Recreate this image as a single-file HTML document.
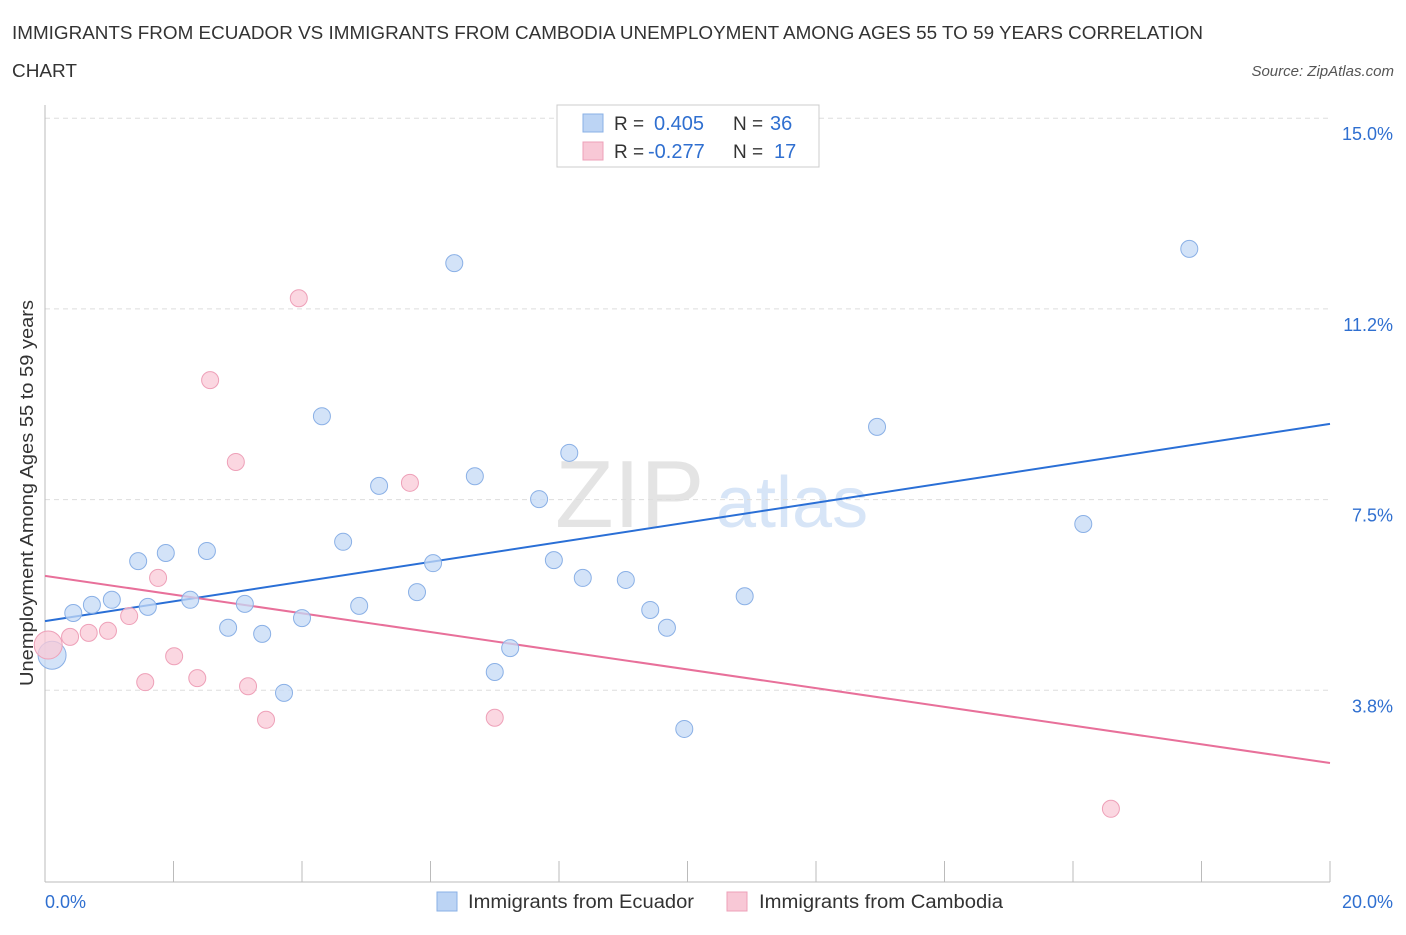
<!DOCTYPE html>
<html><head><meta charset="utf-8"><style>
body{margin:0;background:#fff;font-family:"Liberation Sans",sans-serif;}
svg text{font-family:"Liberation Sans",sans-serif;}
</style></head><body>
<svg id="chart" width="1406" height="930" xmlns="http://www.w3.org/2000/svg">
<text x="12" y="39" font-size="18" fill="#333" textLength="1191" lengthAdjust="spacingAndGlyphs">IMMIGRANTS FROM ECUADOR VS IMMIGRANTS FROM CAMBODIA UNEMPLOYMENT AMONG AGES 55 TO 59 YEARS CORRELATION</text>
<text x="12" y="77" font-size="18" fill="#333" textLength="65" lengthAdjust="spacingAndGlyphs">CHART</text>
<text x="1394" y="76" font-size="15" fill="#555" text-anchor="end" font-style="italic">Source: ZipAtlas.com</text>
<g>
<text x="555" y="527" font-size="96" fill="#e4e4e4" font-family="Liberation Serif">ZIP</text>
<text x="716" y="527" font-size="72" fill="#d7e5f7">atlas</text>
</g>
<g id="grid"></g>
<g id="axes"></g>
<g id="lines"></g>
<g id="points"></g>
<text transform="translate(33,493) rotate(-90)" font-size="18" fill="#333" text-anchor="middle" textLength="386" lengthAdjust="spacingAndGlyphs">Unemployment Among Ages 55 to 59 years</text>
<g>
<rect x="557" y="105" width="262" height="62" fill="#fff" stroke="#ccc"/>
<rect x="583" y="114" width="20" height="18" fill="#bcd4f4" stroke="#8ab0e6"/>
<rect x="583" y="142" width="20" height="18" fill="#f8c8d6" stroke="#eea0b8"/>
<text x="614" y="130" font-size="19" fill="#333">R = </text><text x="654" y="130" font-size="20" fill="#2f6fd0">0.405</text>
<text x="733" y="130" font-size="19" fill="#333">N = </text><text x="770" y="130" font-size="20" fill="#2f6fd0">36</text>
<text x="614" y="158" font-size="19" fill="#333">R = </text><text x="648" y="158" font-size="20" fill="#2f6fd0">-0.277</text>
<text x="733" y="158" font-size="19" fill="#333">N = </text><text x="774" y="158" font-size="20" fill="#2f6fd0">17</text>
</g>
<g>
<rect x="437" y="892" width="20" height="19" fill="#bcd4f4" stroke="#8ab0e6"/>
<text x="468" y="908" font-size="19" fill="#333" textLength="226" lengthAdjust="spacingAndGlyphs">Immigrants from Ecuador</text>
<rect x="727" y="892" width="20" height="19" fill="#f8c8d6" stroke="#eea0b8"/>
<text x="759" y="908" font-size="19" fill="#333" textLength="244" lengthAdjust="spacingAndGlyphs">Immigrants from Cambodia</text>
</g>
</svg>
<script>
const yTicks=[3.75,7.5,11.25,15];
const yTickLabels=["3.8%","7.5%","11.2%","15.0%"];
const xTickCount=10;
const ecuadorX=[0.11,0.44,0.73,1.04,1.45,1.60,1.88,2.26,2.52,2.85,3.11,3.38,3.72,4.00,4.31,4.64,4.89,5.20,5.79,6.04,6.37,6.69,7.00,7.24,7.69,7.92,8.16,8.37,9.04,9.42,9.68,9.95,10.89,12.95,16.16,17.81];
const ecuadorY=[4.44,5.27,5.43,5.53,6.29,5.39,6.45,5.53,6.49,4.98,5.45,4.86,3.70,5.17,9.14,6.67,5.41,7.77,5.68,6.25,12.15,7.96,4.11,4.58,7.51,6.31,8.42,5.96,5.92,5.33,4.98,2.99,5.60,8.93,7.02,12.43];
const cambodiaX=[0.05,0.39,0.68,0.98,1.31,1.56,1.76,2.01,2.37,2.57,2.97,3.16,3.44,3.95,5.68,7.00,16.59];
const cambodiaY=[4.64,4.80,4.88,4.92,5.21,3.91,5.96,4.42,3.99,9.85,8.24,3.83,3.17,11.46,7.83,3.21,1.42];
const ecuadorTrend=[5.11,8.99];
const cambodiaTrend=[6.00,2.32];
const X0=45,X1=1330,Y0=881,YP=190.7/3.75;
const sx=v=>X0+(v/20)*(X1-X0);
const sy=v=>Y0-v*YP;
const NS="http://www.w3.org/2000/svg";
function mk(tag,attrs,parent){const e=document.createElementNS(NS,tag);for(const k in attrs)e.setAttribute(k,attrs[k]);document.getElementById(parent).appendChild(e);return e;}
yTicks.forEach((t,i)=>{
 const l=mk('line',{x1:X0,x2:X1,y1:sy(t),y2:sy(t),stroke:'#ddd','stroke-dasharray':'5,4'},'grid');
 
 
 const tx=mk('text',{x:1393,y:sy(t)+22,'font-size':18,fill:'#2f6fd0','text-anchor':'end'},'grid');
 tx.textContent=yTickLabels[i];
 
 
});
const ax=mk('line',{x1:X0,x2:X1,y1:Y0+1,y2:Y0+1,stroke:'#bbb'},'axes');


const ay=mk('line',{x1:X0,x2:X0,y1:105,y2:Y0+1,stroke:'#bbb'},'axes');


for(let i=0;i<=xTickCount;i++){
 const x=X0+i*(X1-X0)/xTickCount;
 const t=mk('line',{x1:x,x2:x,y1:Y0-20,y2:Y0+1,stroke:'#bbb'},'axes');
 
 
}
const xl=mk('text',{x:45,y:908,'font-size':18,fill:'#2f6fd0'},'axes');xl.textContent='0.0%';


const xr=mk('text',{x:1393,y:908,'font-size':18,fill:'#2f6fd0','text-anchor':'end'},'axes');xr.textContent='20.0%';


function pts(xs,ys,fill,stroke,name){
 xs.forEach((v,i)=>{
  const c=mk('circle',{cx:sx(v),cy:sy(ys[i]),r:i===0?14:8.5,fill:fill,stroke:stroke,'stroke-width':1,'fill-opacity':0.75},'points');
  
  
 });
}
pts(ecuadorX,ecuadorY,'#c4d9f5','#8ab0e6','ecuador-point');
pts(cambodiaX,cambodiaY,'#f9c9d7','#eea0b8','cambodia-point');
const bl=mk('line',{x1:sx(0),x2:sx(20),y1:sy(ecuadorTrend[0]),y2:sy(ecuadorTrend[1]),stroke:'#2a6fd6','stroke-width':2},'lines');


const pl=mk('line',{x1:sx(0),x2:sx(20),y1:sy(cambodiaTrend[0]),y2:sy(cambodiaTrend[1]),stroke:'#e8709a','stroke-width':2},'lines');


</script>
</body></html>
